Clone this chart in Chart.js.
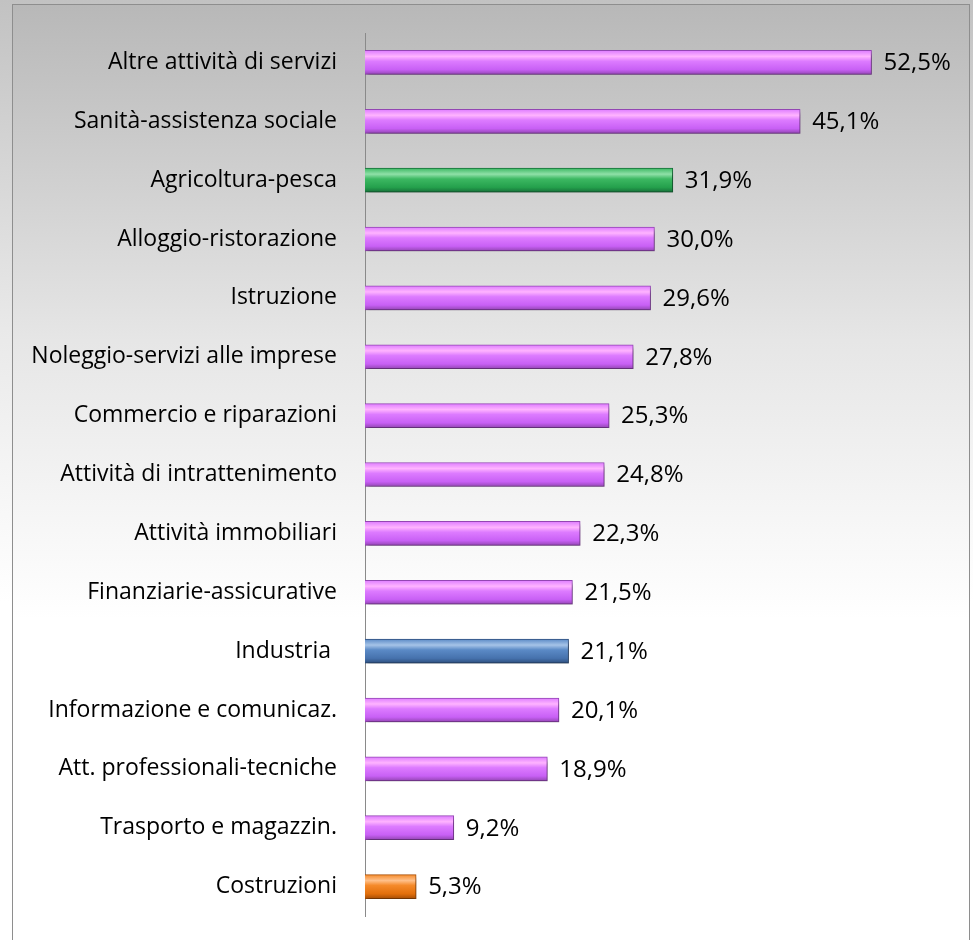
<!DOCTYPE html>
<html lang="it">
<head>
<meta charset="UTF-8">
<title>Settori</title>
<script src="https://cdn.jsdelivr.net/npm/chart.js"></script>
<style>
  html, body { margin: 0; padding: 0; }
  body {
    width: 973px; height: 940px; overflow: hidden; position: relative;
    background: linear-gradient(to bottom, #c2c2c2 0%, #e9e9e9 35%, #ffffff 64%, #ffffff 100%);
  }
  /* cornice del grafico */
  .frame {
    position: absolute; left: 12px; top: 4px; width: 956px; height: 960px;
    border: 1px solid #8e8e8e;
    background: linear-gradient(to bottom, #b8b8b8 0%, #e6e6e6 35%, #ffffff 64%, #ffffff 100%);
  }
  .wrap { position: absolute; left: 0; top: 0; width: 973px; height: 940px; }
</style>
</head>
<body>
<div class="frame"></div>
<div class="wrap"><canvas id="chart"></canvas></div>

<script>
// Dati
const settori = [
  'Altre attività di servizi',
  'Sanità-assistenza sociale',
  'Agricoltura-pesca',
  'Alloggio-ristorazione',
  'Istruzione',
  'Noleggio-servizi alle imprese',
  'Commercio e riparazioni',
  'Attività di intrattenimento',
  'Attività immobiliari',
  'Finanziarie-assicurative',
  'Industria ',
  'Informazione e comunicaz.',
  'Att. professionali-tecniche',
  'Trasporto e magazzin.',
  'Costruzioni'
];
const valori = [52.5, 45.1, 31.9, 30.0, 29.6, 27.8, 25.3, 24.8, 22.3, 21.5, 21.1, 20.1, 18.9, 9.2, 5.3];

// Colori: viola per tutti, tranne i macro-settori
const tinte = {
  viola:   ['#ffb4ff', '#dd7bff', '#c860f5', '#9446b4'],
  verde:   ['#8fe0a8', '#3cb862', '#24a04c', '#17703a'],
  blu:     ['#a6c4e8', '#5b8ac6', '#4672ad', '#2e4f7e'],
  arancio: ['#ffc08a', '#f58a2a', '#e26f0c', '#a84f06']
};
const tintaBarra = ['viola', 'viola', 'verde', 'viola', 'viola', 'viola', 'viola', 'viola',
                    'viola', 'viola', 'blu', 'viola', 'viola', 'viola', 'arancio'];

const SPESSORE = 24;
const FONT = "'Open Sans', sans-serif";

function sfondoBarra(ctx) {
  const t = tinte[tintaBarra[ctx.dataIndex]];
  const chart = ctx.chart;
  const y = chart.scales.y;
  if (!chart.chartArea || !y) return t[1];
  const c = y.getPixelForValue(ctx.dataIndex);
  const g = chart.ctx.createLinearGradient(0, c - SPESSORE / 2, 0, c + SPESSORE / 2);
  g.addColorStop(0, t[1]);
  g.addColorStop(0.25, t[0]);
  g.addColorStop(0.45, t[1]);
  g.addColorStop(0.8, t[2]);
  g.addColorStop(1, t[3]);
  return g;
}

// Ombra sotto le barre
const ombra = {
  id: 'ombra',
  beforeDatasetsDraw(chart) {
    const c = chart.ctx;
    c.save();
    c.shadowColor = 'rgba(0,0,0,0.35)';
    c.shadowOffsetX = 2;
    c.shadowOffsetY = 4;
    c.shadowBlur = 4;
  },
  afterDatasetsDraw(chart) {
    chart.ctx.restore();
  }
};

// Etichette dei valori a destra delle barre
const etichette = {
  id: 'etichette',
  afterDatasetsDraw(chart) {
    const c = chart.ctx;
    const meta = chart.getDatasetMeta(0);
    c.save();
    c.font = '24px ' + FONT;
    c.fillStyle = '#000';
    c.textAlign = 'left';
    c.textBaseline = 'middle';
    meta.data.forEach((bar, i) => {
      const testo = valori[i].toFixed(1).replace('.', ',') + '%';
      c.fillText(testo, bar.x + 12, bar.y + 1);
    });
    c.restore();
  }
};

new Chart(document.getElementById('chart'), {
  type: 'bar',
  data: {
    labels: settori,
    datasets: [{
      data: valori,
      backgroundColor: sfondoBarra,
      borderColor: (ctx) => tinte[tintaBarra[ctx.dataIndex]][3],
      borderWidth: 1,
      borderSkipped: 'start',
      barThickness: SPESSORE
    }]
  },
  options: {
    indexAxis: 'y',
    responsive: true,
    maintainAspectRatio: false,
    animation: false,
    layout: { padding: { left: 0, right: 32, top: 33, bottom: 24 } },
    plugins: {
      legend: { display: false },
      tooltip: { enabled: false }
    },
    scales: {
      x: {
        display: false,
        min: 0,
        max: 59.7
      },
      y: {
        afterFit(scale) {
          scale.width = 365;
          scale.paddingTop = 0;
          scale.paddingBottom = 0;
        },
        grid: { display: false, drawTicks: false },
        border: { display: true, color: '#8a8a8a', width: 1 },
        ticks: {
          autoSkip: false,
          padding: 28,
          color: '#000',
          font: { family: FONT, size: 23 }
        }
      }
    }
  },
  plugins: [ombra, etichette]
});
</script>
</body>
</html>
